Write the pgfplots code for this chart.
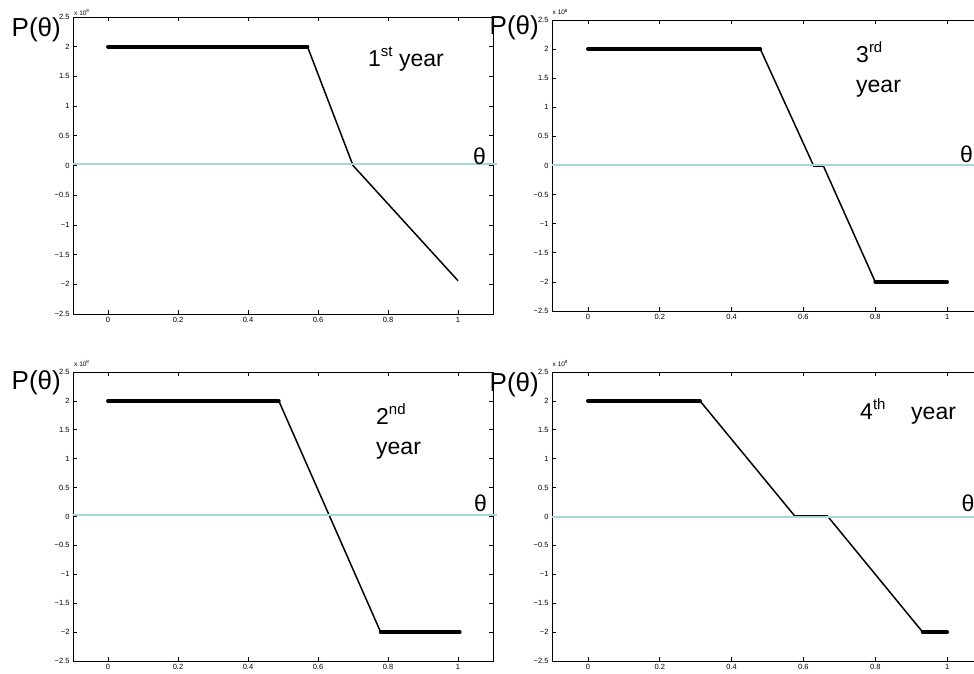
\documentclass[border=0pt]{standalone}
\usepackage{fontspec}
\setmainfont{Liberation Sans}
\usepackage{pgfplots}
\pgfplotsset{compat=1.18}
\definecolor{zeroline}{RGB}{166,214,218}
\pgfplotsset{panel/.style={
  scale only axis, xmin=-0.1, xmax=1.1, ymin=-2.5, ymax=2.5,
  xtick={0,0.2,0.4,0.6,0.8,1}, xticklabels={0,0.2,0.4,0.6,0.8,1},
  ytick={-2.5,-2,-1.5,-1,-0.5,0,0.5,1,1.5,2,2.5},
  yticklabels={−2.5,−2,−1.5,−1,−0.5,0,0.5,1,1.5,2,2.5},
  tick align=inside, major tick length=4pt,
  tick label style={font=\fontsize{7.5}{8}\selectfont},
  axis line style={line width=0.9pt},
  every tick/.style={black, line width=0.6pt},
  clip=false, anchor=north west,
}}
\tikzset{
pthin/.style={draw=black, line width=1.5pt, line join=round},
pthick/.style={draw=black, line width=3.8pt, line cap=round},
pmid/.style={draw=black, line width=3.6pt},
pzero/.style={draw=zeroline, line width=2.1pt},
}
\newcommand{\bigtxt}[1]{\fontsize{23}{26}\selectfont #1}
\newcommand{\supx}[1]{\raisebox{0.45em}{\fontsize{15}{15}\selectfont #1}}
\begin{document}
\begin{tikzpicture}[x=1pt,y=1pt]
\path[use as bounding box] (0,0) rectangle (974,674);
\clip (0,0) rectangle (974,674);
% top-left: 1st year
\begin{axis}[panel, at={(73pt,657pt)}, width=420pt, height=297pt]
\addplot[pthin, no marks] coordinates {(0,2) (0.57,2) (0.70,0) (1.0,-1.94)};
\addplot[pthick, no marks] coordinates {(0,2) (0.57,2)};
\addplot[pzero, no marks] coordinates {(-0.1,0.03) (1.11,0.03)};
\end{axis}
% top-right: 3rd year
\begin{axis}[panel, at={(552pt,654pt)}, width=431pt, height=291pt]
\addplot[pthin, no marks] coordinates {(0,2) (0.48,2) (0.628,0) (0.655,0) (0.80,-2) (1.0,-2)};
\addplot[pthick, no marks] coordinates {(0,2) (0.48,2)};
\addplot[pmid, no marks] coordinates {(0.628,0) (0.655,0)};
\addplot[pthick, no marks] coordinates {(0.80,-2) (1.0,-2)};
\addplot[pzero, no marks] coordinates {(-0.1,0.01) (1.11,0.01)};
\end{axis}
% bottom-left: 2nd year
\begin{axis}[panel, at={(73pt,302pt)}, width=420pt, height=289pt]
\addplot[pthin, no marks] coordinates {(0,2) (0.488,2) (0.779,-2) (1.005,-2)};
\addplot[pthick, no marks] coordinates {(0,2) (0.488,2)};
\addplot[pthick, no marks] coordinates {(0.779,-2) (1.005,-2)};
\addplot[pzero, no marks] coordinates {(-0.1,0.02) (1.11,0.02)};
\end{axis}
% bottom-right: 4th year
\begin{axis}[panel, at={(552pt,302pt)}, width=431pt, height=289pt]
\addplot[pthin, no marks] coordinates {(0,2) (0.312,2) (0.577,0) (0.668,0) (0.932,-2) (1.0,-2)};
\addplot[pthick, no marks] coordinates {(0,2) (0.312,2)};
\addplot[pmid, no marks] coordinates {(0.577,0) (0.668,0)};
\addplot[pthick, no marks] coordinates {(0.932,-2) (1.0,-2)};
\addplot[pzero, no marks] coordinates {(-0.1,-0.01) (1.11,-0.01)};
\end{axis}
% labels
\begin{scope}[every node/.style={inner sep=0pt, anchor=base west}]
\node at (11.5,637.3) {\fontsize{26}{28}\selectfont P(θ)};
\node at (489.5,639) {\fontsize{26}{28}\selectfont P(θ)};
\node at (11.5,284) {\fontsize{26}{28}\selectfont P(θ)};
\node at (489.5,282) {\fontsize{26}{28}\selectfont P(θ)};
\node at (74,658.5) {\fontsize{6.5}{6.5}\selectfont x 10\textsuperscript{8}};
\node at (552.5,659) {\fontsize{6.5}{6.5}\selectfont x 10\textsuperscript{8}};
\node at (74,307.5) {\fontsize{6.5}{6.5}\selectfont x 10\textsuperscript{8}};
\node at (552.5,307.5) {\fontsize{6.5}{6.5}\selectfont x 10\textsuperscript{8}};
\node at (368,607) {\bigtxt{1\supx{st} year}};
\node at (856,611) {\bigtxt{3\supx{rd}}};
\node at (856,581) {\bigtxt{year}};
\node at (376,249) {\bigtxt{2\supx{nd}}};
\node at (376,219) {\bigtxt{year}};
\node at (860,254) {\bigtxt{4\supx{th}}};
\node at (911,254) {\bigtxt{year}};
\node at (473,509) {\bigtxt{θ}};
\node at (960,511) {\bigtxt{θ}};
\node at (474,162) {\bigtxt{θ}};
\node at (961.5,162) {\bigtxt{θ}};
\end{scope}
\end{tikzpicture}
\end{document}
